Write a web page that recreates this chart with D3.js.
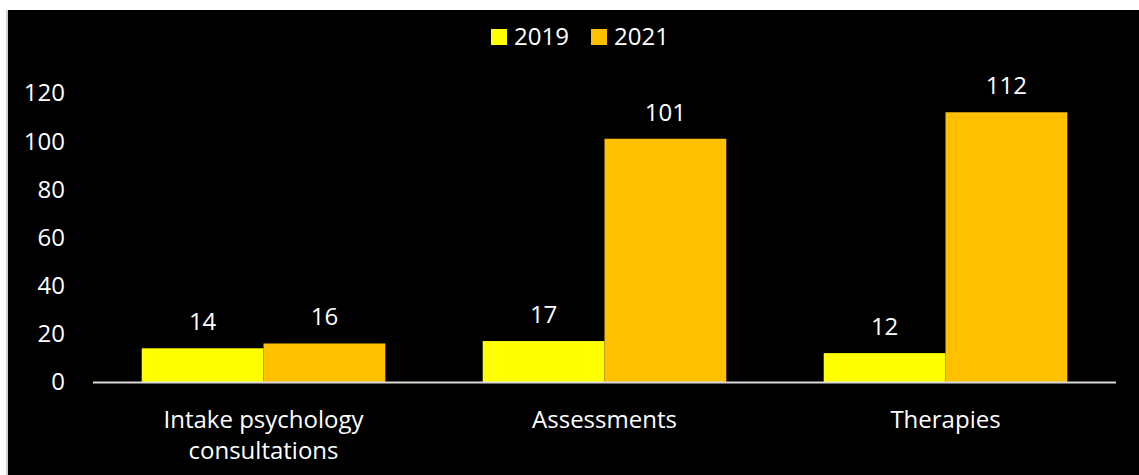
<!DOCTYPE html>
<html>
<head>
<meta charset="utf-8">
<script src="https://cdn.jsdelivr.net/npm/d3@7"></script>
<style>
  body { margin: 0; background: #fff; }
  text { font-family: "Open Sans", Lato, sans-serif; }
</style>
</head>
<body>
<div id="chart"></div>
<script>
const categories = [["Intake psychology", "consultations"], ["Assessments"], ["Therapies"]];
const seriesNames = ["2019", "2021"];
const values2019 = [14, 17, 12];
const values2021 = [16, 101, 112];
const yTicks = [0, 20, 40, 60, 80, 100, 120];

const WIDTH = 1139, HEIGHT = 475;
const MARGIN = {left: 93, right: 23, top: 93, bottom: 93};
const FONT = 24;
const colors = ["#ffff00", "#ffc000"];

const svg = d3.select("#chart").append("svg")
  .attr("width", WIDTH)
  .attr("height", HEIGHT);

// chart area background
svg.append("rect")
  .attr("x", 8).attr("y", 10)
  .attr("width", WIDTH - 8).attr("height", HEIGHT - 10)
  .attr("fill", "#000");
svg.append("line")
  .attr("x1", 7).attr("x2", 7).attr("y1", 10).attr("y2", HEIGHT)
  .attr("stroke", "#d0d0d0").attr("stroke-width", 2);

const x0 = d3.scaleBand()
  .domain(d3.range(categories.length))
  .range([MARGIN.left, WIDTH - MARGIN.right])
  .padding(0);

// gap width 80%: 0.4 of a bar on each side of the pair
const x1 = d3.scaleBand()
  .domain(seriesNames)
  .range([0, x0.bandwidth()])
  .paddingInner(0)
  .paddingOuter(0.4);

const y = d3.scaleLinear()
  .domain([0, 120])
  .range([382, 93]);

// y tick labels
svg.append("g")
  .selectAll("text")
  .data(yTicks)
  .join("text")
  .attr("x", 65)
  .attr("y", d => y(d))
  .attr("dy", "0.35em")
  .attr("text-anchor", "end")
  .attr("fill", "#fff")
  .attr("font-size", FONT)
  .text(d => d);

const rows = seriesNames.map((s, i) => ({
  name: s,
  color: colors[i],
  values: i === 0 ? values2019 : values2021
}));

const groups = svg.append("g")
  .selectAll("g")
  .data(rows)
  .join("g")
  .attr("fill", d => d.color);

groups.selectAll("rect")
  .data(d => d.values.map((v, i) => ({v, i, name: d.name})))
  .join("rect")
  .attr("x", d => x0(d.i) + x1(d.name))
  .attr("y", d => y(d.v))
  .attr("width", x1.bandwidth())
  .attr("height", d => y(0) - y(d.v));

// value labels
svg.append("g")
  .selectAll("text")
  .data(rows.flatMap(r => r.values.map((v, i) => ({v, i, name: r.name}))))
  .join("text")
  .attr("x", d => x0(d.i) + x1(d.name) + x1.bandwidth() / 2)
  .attr("y", d => y(d.v) - 18)
  .attr("text-anchor", "middle")
  .attr("fill", "#fff")
  .attr("font-size", FONT)
  .text(d => d.v);

// x axis line
svg.append("line")
  .attr("x1", MARGIN.left).attr("x2", WIDTH - MARGIN.right)
  .attr("y1", y(0) + 0.5).attr("y2", y(0) + 0.5)
  .attr("stroke", "#d9d9d9").attr("stroke-width", 2);

// category labels
const cat = svg.append("g")
  .selectAll("text")
  .data(categories)
  .join("text")
  .attr("x", (d, i) => x0(i) + x0.bandwidth() / 2)
  .attr("y", 428)
  .attr("text-anchor", "middle")
  .attr("fill", "#fff")
  .attr("font-size", FONT);
cat.selectAll("tspan")
  .data(d => d)
  .join("tspan")
  .attr("x", function() { return this.parentNode.getAttribute("x"); })
  .attr("dy", (d, i) => i === 0 ? 0 : 31)
  .text(d => d);

// legend
const legend = svg.append("g")
  .selectAll("g")
  .data(rows)
  .join("g")
  .attr("transform", (d, i) => `translate(${491 + i * 100},29)`);
legend.append("rect")
  .attr("width", 16).attr("height", 16)
  .attr("fill", d => d.color);
legend.append("text")
  .attr("x", 23).attr("y", 8)
  .attr("dy", "0.35em")
  .attr("fill", "#fff")
  .attr("font-size", FONT)
  .text(d => d.name);
</script>
</body>
</html>
